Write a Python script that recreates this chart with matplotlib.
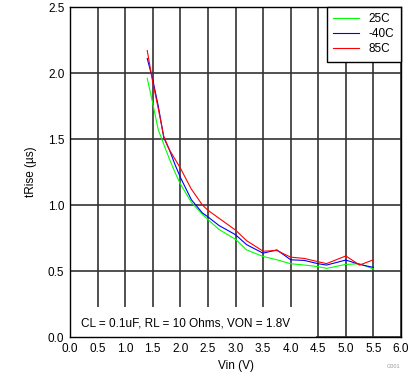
import matplotlib
matplotlib.use("Agg")
import matplotlib.pyplot as plt
from matplotlib.patches import Rectangle

vin = [1.4, 1.5, 1.6, 1.7, 1.8, 1.9, 2.0, 2.2, 2.4, 2.5, 2.7, 3.0, 3.2, 3.5,
       3.75, 4.0, 4.25, 4.5, 4.65, 5.0, 5.25, 5.5]
t25 = [1.96, 1.77, 1.57, 1.46, 1.35, 1.25, 1.16, 1.02, 0.93, 0.89, 0.815, 0.74,
       0.66, 0.61, 0.585, 0.555, 0.545, 0.533, 0.52, 0.55, 0.555, 0.515]
tm40 = [2.11, 1.95, 1.75, 1.51, 1.42, 1.31, 1.21, 1.04, 0.94, 0.91, 0.845, 0.775,
        0.70, 0.635, 0.66, 0.585, 0.58, 0.555, 0.545, 0.583, 0.55, 0.527]
t85 = [2.17, 1.93, 1.73, 1.52, 1.42, 1.35, 1.28, 1.12, 1.00, 0.96, 0.90, 0.81,
       0.73, 0.65, 0.655, 0.605, 0.595, 0.57, 0.556, 0.614, 0.545, 0.585]
series_labels = ["25C", "-40C", "85C"]
series_colors = ["#00FF00", "#0000FF", "#FF0000"]
xticks = [0.0, 0.5, 1.0, 1.5, 2.0, 2.5, 3.0, 3.5, 4.0, 4.5, 5.0, 5.5, 6.0]
yticks = [0.0, 0.5, 1.0, 1.5, 2.0, 2.5]

plt.rcParams['font.family'] = ['Liberation Sans', 'DejaVu Sans']
plt.rcParams['font.size'] = 8.5

fig = plt.figure(figsize=(4.19, 3.82), dpi=100)
ax = fig.add_axes([70/419, 1-337/382, 331/419, 330/382])

for y, lab, col in zip([t25, tm40, t85], series_labels, series_colors):
    ax.plot(vin, y, color=col, lw=0.8, label=lab, zorder=3)

ax.set_xlim(0, 6)
ax.set_ylim(0, 2.5)
ax.set_xticks(xticks)
ax.set_yticks(yticks)
ax.set_xticklabels([f"{v:.1f}" for v in xticks])
ax.set_yticklabels([f"{v:.1f}" for v in yticks])
ax.tick_params(length=0, pad=4)
ax.set_axisbelow(True)
ax.grid(True, color="#333333", lw=1.2)
for s in ax.spines.values():
    s.set_color("black")
    s.set_linewidth(1.0)
    s.set_zorder(5)

ax.add_patch(Rectangle((0, 0), (316-70)/331, (337-307)/330, transform=ax.transAxes,
                       facecolor="white", edgecolor="none", zorder=1))
ax.text(11/331, (337-323)/330, "CL = 0.1uF, RL = 10 Ohms, VON = 1.8V",
        transform=ax.transAxes, va="center", ha="left", zorder=4)

ax.set_xlabel("Vin (V)", labelpad=4)
ax.set_ylabel("tRise (µs)", labelpad=8)

leg = ax.legend(loc="upper right", borderaxespad=0, fancybox=False, framealpha=1,
                edgecolor="black", handlelength=2.2, borderpad=0.55, labelspacing=0.25,
                handletextpad=0.8)
leg.get_frame().set_linewidth(1.0)
leg.set_zorder(6)

fig.text(400/419, 1-367/382, "G001", fontsize=4, color="#999999", ha="right", va="center")

fig.savefig("out.png", dpi=100)
